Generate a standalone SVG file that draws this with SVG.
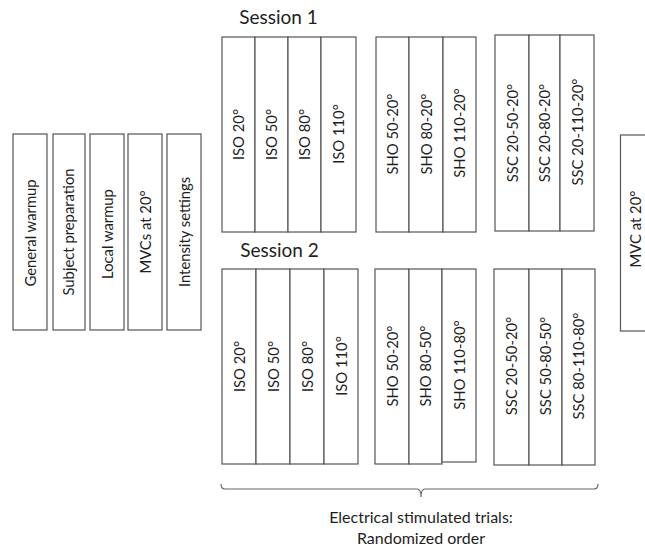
<svg xmlns="http://www.w3.org/2000/svg" width="645" height="547" viewBox="0 0 645 547">
<style>
.box{fill:#fff;stroke:#555;stroke-width:1.2}
.lbl{font-family:Lato,"Open Sans","Liberation Sans",sans-serif;font-size:14.8px;fill:#1e1e1e;text-anchor:middle}
.cap{font-family:Lato,"Open Sans","Liberation Sans",sans-serif;font-size:16px;fill:#1e1e1e;text-anchor:middle}
.ttl{font-family:Lato,"Open Sans","Liberation Sans",sans-serif;font-size:19px;fill:#1e1e1e;text-anchor:middle}
.brace{fill:none;stroke:#666;stroke-width:1.2}
</style>
<rect width="645" height="547" fill="#fff"/>
<g id="prep">
<g id="general-warmup"><rect class="box" x="13" y="134" width="34" height="196"/><text class="lbl" transform="translate(35.5,233) rotate(-90)">General warmup</text></g>
<g id="subject-preparation"><rect class="box" x="53" y="134" width="32" height="196"/><text class="lbl" transform="translate(74,232) rotate(-90)">Subject preparation</text></g>
<g id="local-warmup"><rect class="box" x="90" y="134" width="34" height="196"/><text class="lbl" transform="translate(112.5,234) rotate(-90)">Local warmup</text></g>
<g id="mvcs"><rect class="box" x="128" y="134" width="34" height="196"/><text class="lbl" transform="translate(150.5,232) rotate(-90)">MVCs at 20°</text></g>
<g id="intensity"><rect class="box" x="167" y="134" width="34" height="196"/><text class="lbl" transform="translate(189.5,232) rotate(-90)">Intensity settings</text></g>
</g>
<text id="session1-title" class="ttl" x="278.5" y="24">Session 1</text>
<g id="s1-iso">
<rect class="box" x="222" y="37" width="33" height="195"/><text class="lbl" transform="translate(244,134.5) rotate(-90)">ISO 20°</text>
<rect class="box" x="255" y="37" width="33" height="195"/><text class="lbl" transform="translate(277,134.5) rotate(-90)">ISO 50°</text>
<rect class="box" x="288" y="37" width="33" height="195"/><text class="lbl" transform="translate(310,134.5) rotate(-90)">ISO 80°</text>
<rect class="box" x="321" y="37" width="35" height="195"/><text class="lbl" transform="translate(344,134) rotate(-90)">ISO 110°</text>
</g>
<g id="s1-sho">
<rect class="box" x="376" y="37" width="33" height="195"/><text class="lbl" transform="translate(398,134) rotate(-90)">SHO 50-20°</text>
<rect class="box" x="409" y="37" width="34" height="195"/><text class="lbl" transform="translate(431.5,134) rotate(-90)">SHO 80-20°</text>
<rect class="box" x="443" y="37" width="33" height="195"/><text class="lbl" transform="translate(465,133) rotate(-90)">SHO 110-20°</text>
</g>
<g id="s1-ssc">
<rect class="box" x="495" y="35" width="34" height="196"/><text class="lbl" transform="translate(517.5,133) rotate(-90)">SSC 20-50-20°</text>
<rect class="box" x="529" y="35" width="31" height="196"/><text class="lbl" transform="translate(550,133) rotate(-90)">SSC 20-80-20°</text>
<rect class="box" x="560" y="35" width="34" height="196"/><text class="lbl" transform="translate(582.5,132) rotate(-90)">SSC 20-110-20°</text>
</g>
<g id="final-mvc"><rect class="box" x="620.5" y="135" width="40" height="196"/><text class="lbl" transform="translate(641,229) rotate(-90)">MVC at 20°</text></g>
<text id="session2-title" class="ttl" x="279.5" y="257">Session 2</text>
<g id="s2-iso">
<rect class="box" x="222" y="269" width="34" height="195"/><text class="lbl" transform="translate(244.5,366.5) rotate(-90)">ISO 20°</text>
<rect class="box" x="256" y="269" width="34" height="195"/><text class="lbl" transform="translate(278.5,366.5) rotate(-90)">ISO 50°</text>
<rect class="box" x="290" y="269" width="34" height="195"/><text class="lbl" transform="translate(312.5,366.5) rotate(-90)">ISO 80°</text>
<rect class="box" x="324" y="269" width="34" height="195"/><text class="lbl" transform="translate(346.5,366) rotate(-90)">ISO 110°</text>
</g>
<g id="s2-sho">
<rect class="box" x="375" y="269" width="34" height="195"/><text class="lbl" transform="translate(397.5,366) rotate(-90)">SHO 50-20°</text>
<rect class="box" x="409" y="269" width="33" height="195"/><text class="lbl" transform="translate(431,366) rotate(-90)">SHO 80-50°</text>
<rect class="box" x="442" y="269" width="34" height="193"/><text class="lbl" transform="translate(464.5,365) rotate(-90)">SHO 110-80°</text>
</g>
<g id="s2-ssc">
<rect class="box" x="494" y="269" width="35" height="196"/><text class="lbl" transform="translate(517,366) rotate(-90)">SSC 20-50-20°</text>
<rect class="box" x="529" y="269" width="33" height="196"/><text class="lbl" transform="translate(551,366) rotate(-90)">SSC 50-80-50°</text>
<rect class="box" x="562" y="269" width="33" height="196"/><text class="lbl" transform="translate(584,366) rotate(-90)">SSC 80-110-80°</text>
</g>
<g id="connectors">
<path class="brace" d="M221,484 Q221,489 225,489 H417 Q421,489 421,497 Q421,489 425,489 H594 Q598,489 598,484"/>
</g>
<g id="trials-label">
<text class="cap" x="421" y="523">Electrical stimulated trials:</text>
<text class="cap" x="421" y="544">Randomized order</text>
</g>
</svg>
